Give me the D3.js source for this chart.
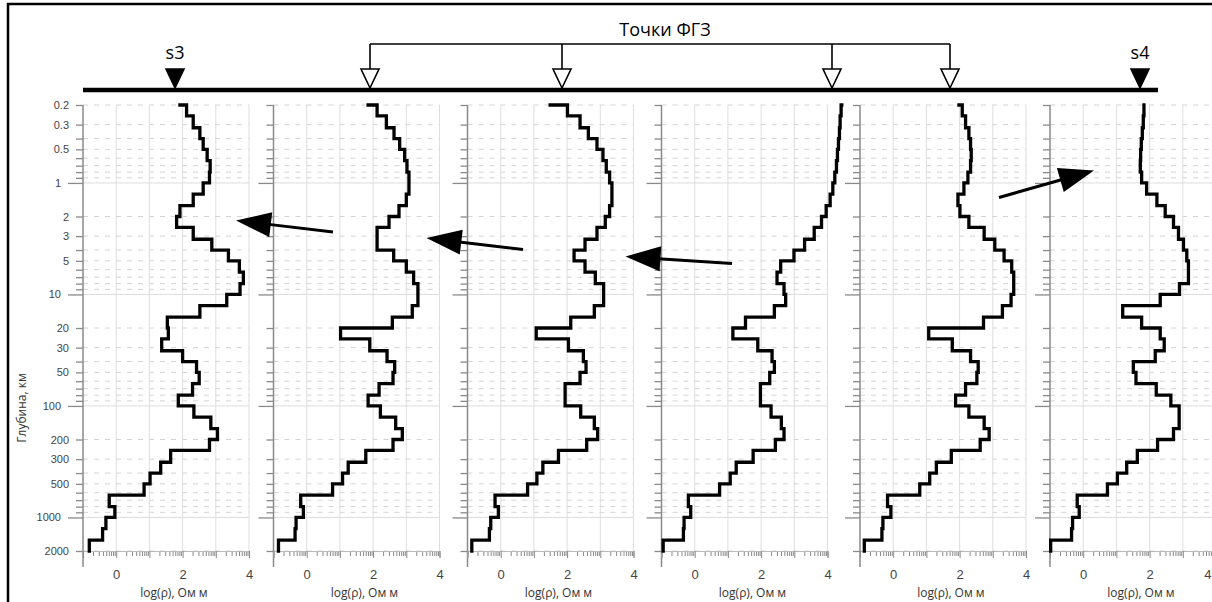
<!DOCTYPE html>
<html><head><meta charset="utf-8">
<script src="https://cdn.jsdelivr.net/npm/d3@7"></script>
<style>body{margin:0;background:#fff}svg{display:block}</style>
</head><body><svg id="c" width="1212" height="602"></svg>
<script>
// ---- DATA ----
const depthBounds = [0.2,0.25,0.32,0.4,0.5,0.63,0.8,1,1.26,1.6,2,2.5,3.2,4,5,6.3,8,10,12.6,16,20,25,32,40,50,63,80,100,126,160,200,250,320,400,500,630,800,1000,1260,1600,2000];
const stations = ["s3","ФГЗ-1","ФГЗ-2","ФГЗ-3","ФГЗ-4","s4"];
const stationType = ["site","fgz","fgz","fgz","fgz","site"];
// first value = surface stub above 0.2 km, then 40 layers
const rhoS3 = [1.92, 2.12,2.32,2.52,2.62,2.74,2.83,2.81,2.62,2.32,1.92, 1.82,2.32,2.88,3.38,3.71,3.83,3.73,3.33,2.52,1.54, 1.57,1.37,2.00,2.42,2.50,2.30,1.87,2.34,2.85,3.05, 2.81,1.64,1.34,1.02,0.84,-0.21,-0.04,-0.31,-0.41,-0.81];
const rhoF1 = [1.85, 2.12,2.40,2.63,2.80,2.95,3.02,3.08,3.08,3.00,2.78, 2.48,2.12,2.12,2.62,3.00,3.22,3.35,3.35,3.18,2.58, 1.02,1.90,2.42,2.65,2.60,2.18,1.85,2.22,2.68,2.88, 2.60,1.78,1.25,1.08,0.78,-0.18,-0.10,-0.32,-0.35,-0.85];
const rhoF2 = [1.49, 2.01,2.39,2.64,2.90,3.08,3.18,3.28,3.35,3.35,3.28, 3.15,2.90,2.54,2.21,2.54,2.85,3.10,3.10,2.82,2.11, 1.07,2.04,2.49,2.57,2.39,1.94,1.94,2.41,2.82,2.92, 2.59,1.74,1.27,1.09,0.81,-0.17,-0.07,-0.30,-0.34,-0.87];
const rhoF3 = [4.43, 4.41,4.38,4.36,4.33,4.30,4.27,4.22,4.16,4.08,3.96, 3.82,3.60,3.31,2.99,2.59,2.48,2.69,2.74,2.40,1.53, 1.15,1.90,2.33,2.40,2.26,1.98,1.98,2.30,2.61,2.69, 2.43,1.76,1.25,1.07,0.75,-0.19,-0.12,-0.32,-0.34,-0.95];
const rhoF4 = [1.98, 2.08,2.18,2.28,2.33,2.35,2.33,2.25,2.13,1.95,2.01, 2.28,2.74,3.06,3.34,3.57,3.63,3.63,3.55,3.29,2.72, 1.07,1.78,2.33,2.56,2.52,2.18,1.88,2.28,2.74,2.89, 2.62,1.75,1.30,1.10,0.80,-0.17,-0.07,-0.31,-0.34,-0.87];
const rhoS4 = [1.83, 1.83,1.81,1.78,1.75,1.73,1.72,1.76,1.91,2.22,2.47, 2.72,2.87,3.02,3.12,3.17,3.17,2.90,2.32,1.19,1.76, 2.32,2.44,2.17,1.51,1.59,2.20,2.64,2.89,2.89,2.72, 2.24,1.63,1.31,1.03,0.73,-0.18,-0.12,-0.32,-0.35,-0.98];
const profiles = [rhoS3, rhoF1, rhoF2, rhoF3, rhoF4, rhoS4];
const depthTickLabels = [0.2,0.3,0.5,1,2,3,5,10,20,30,50,100,200,300,500,1000,2000];
const depthTickMinor = [0.4,0.6,0.7,0.8,0.9,4,6,7,8,9,40,60,70,80,90,400,600,700,800,900];
const decades = [1,10,100,1000];
const rhoTicks = [-1,0,1,2,3,4];
const rhoTickLabels = [0,2,4];
const xTitle = "log(ρ), Ом м";
const yTitle = "Глубина, км";
const topTitle = "Точки ФГЗ";

// ---- LAYOUT ----
const W = 1212;
const panelLeft = [83, 273.5, 467.5, 661.5, 860, 1050];
const panelW = 166, yTop = 105, yBot = 551;
const markerX = [175, 370, 562, 832, 950, 1140];
const arrows = [
  {x1:333,y1:232,x2:236,y2:220.5},
  {x1:523,y1:249.5,x2:426.5,y2:238},
  {x1:732,y1:263.5,x2:625.5,y2:256.5},
  {x1:999,y1:197.5,x2:1094,y2:170.5}
];

const svg = d3.select("#c");
// frame (left and top edges)
svg.append("path").attr("d","M8,602L8,4L1212,4")
  .attr("fill","none").attr("stroke","#000").attr("stroke-width",2.5);

const y = d3.scaleLog().domain([0.2,2000]).range([yTop,yBot]);
const allDepthTicks = depthTickLabels.concat(depthTickMinor);

profiles.forEach((vals,p)=>{
  const L = panelLeft[p];
  const x = d3.scaleLinear().domain([-1,4]).range([L, L+panelW]);
  const g = svg.append("g");
  // grid
  g.selectAll(".hg").data(allDepthTicks).join("line")
    .attr("x1",L).attr("x2",L+panelW)
    .attr("y1",d=>y(d)).attr("y2",d=>y(d))
    .attr("stroke", d=>decades.includes(d)?"#dcdcdc":"#d4d4d4")
    .attr("stroke-width",1)
    .attr("stroke-dasharray", d=>decades.includes(d)?null:"5,6");
  g.selectAll(".vg").data(rhoTicks.slice(1)).join("line")
    .attr("x1",d=>x(d)).attr("x2",d=>x(d)).attr("y1",yTop).attr("y2",yBot)
    .attr("stroke","#dedede").attr("stroke-width",1);
  // y axis
  const nonDec = allDepthTicks.filter(d=>!decades.includes(d));
  const showLab = p===0;
  const axDec = d3.axisLeft(y).tickValues(decades).tickSize(15).tickPadding(7)
    .tickFormat(d=>showLab?String(d):"");
  const axOther = d3.axisLeft(y).tickValues(nonDec).tickSize(7).tickPadding(7)
    .tickFormat(d=>showLab && depthTickLabels.includes(d)?String(d):"");
  [axDec, axOther].forEach(ax=>{
    const a = g.append("g").attr("transform",`translate(${L},0)`).call(ax);
    a.select(".domain").remove();
    a.selectAll("line").attr("stroke","#8a8a8a").attr("stroke-width",1.3);
    a.selectAll("text").attr("fill","#444").style("font-family","Liberation Sans, Arial, sans-serif").style("font-size","11px");
  });
  g.append("line").attr("x1",L).attr("x2",L).attr("y1",yTop).attr("y2",567)
    .attr("stroke","#8a8a8a").attr("stroke-width",1.5);
  // x axis
  const minor = [];
  rhoTicks.slice(0,-1).forEach(n=>{[2,3,4,5,6,7,8,9].forEach(m=>minor.push(n+Math.log10(m)));});
  const axXMinor = d3.axisBottom(x).tickValues(minor).tickSize(5).tickFormat("");
  const axXMajor = d3.axisBottom(x).tickValues(rhoTicks).tickSize(7).tickPadding(12)
    .tickFormat(d=>rhoTickLabels.includes(d)?String(d):"");
  [axXMinor, axXMajor].forEach(ax=>{
    const a = g.append("g").attr("transform",`translate(0,${yBot})`).call(ax);
    a.select(".domain").attr("stroke","#bbb").attr("stroke-width",1);
    a.selectAll("line").attr("stroke","#8a8a8a").attr("stroke-width",1);
    a.selectAll("text").attr("fill","#444").style("font-family","Liberation Sans, Arial, sans-serif").style("font-size","13px")
      .attr("text-anchor", d=> x(d)+5 > W ? "end" : "middle")
      .attr("x", d=> x(d)+5 > W ? (W-1-x(d)) : 0);
  });
  g.append("text").attr("x",L+91).attr("y",597).attr("text-anchor","middle")
    .style("font-family","Open Sans, sans-serif").style("font-size","12px").attr("fill","#333").text(xTitle);
  // profile
  const pts = [[vals[0], depthBounds[0]]];
  for(let i=1;i<vals.length;i++){ pts.push([vals[i],depthBounds[i-1]]); pts.push([vals[i],depthBounds[i]]); }
  g.append("path").datum(pts)
    .attr("d", d3.line().x(d=>x(d[0])).y(d=>y(d[1])))
    .attr("fill","none").attr("stroke","#000").attr("stroke-width",3.3)
    .attr("stroke-linejoin","miter").attr("stroke-linecap","square");
});

svg.append("text").attr("transform","translate(26,408) rotate(-90)").attr("text-anchor","middle")
  .style("font-family","Open Sans, sans-serif").style("font-size","12px").attr("fill","#333").text(yTitle);

// top line and markers
svg.append("line").attr("x1",83).attr("x2",1158).attr("y1",90).attr("y2",90)
  .attr("stroke","#000").attr("stroke-width",4.5);
const fgzX = markerX.filter((d,i)=>stationType[i]==="fgz");
svg.append("line").attr("x1",d3.min(fgzX)).attr("x2",d3.max(fgzX)).attr("y1",44).attr("y2",44)
  .attr("stroke","#000").attr("stroke-width",1.6);
markerX.forEach((mx,i)=>{
  const fgz = stationType[i]==="fgz";
  if(fgz){
    svg.append("line").attr("x1",mx).attr("x2",mx).attr("y1",44).attr("y2",69)
      .attr("stroke","#000").attr("stroke-width",1.6);
  } else {
    svg.append("text").attr("x",mx).attr("y",59).attr("text-anchor","middle")
      .style("font-family","Open Sans, sans-serif").style("font-size","18px").attr("fill","#000").text(stations[i]);
  }
  svg.append("path").attr("d",`M${mx-9},${69}L${mx+9},${69}L${mx},${88}Z`)
    .attr("fill",fgz?"#fff":"#000").attr("stroke","#000").attr("stroke-width",1.6);
});
svg.append("text").attr("x",665).attr("y",36).attr("text-anchor","middle")
  .style("font-family","Open Sans, sans-serif").style("font-size","18px").attr("fill","#000").text(topTitle);

// arrows
arrows.forEach(a=>{
  const dx=a.x2-a.x1, dy=a.y2-a.y1, len=Math.hypot(dx,dy), ux=dx/len, uy=dy/len;
  const hl=35, hw=12.5;
  const bx=a.x2-ux*hl, by=a.y2-uy*hl;
  svg.append("line").attr("x1",a.x1).attr("y1",a.y1).attr("x2",bx+ux*2).attr("y2",by+uy*2)
    .attr("stroke","#000").attr("stroke-width",3);
  svg.append("path").attr("d",`M${a.x2},${a.y2}L${bx-uy*hw},${by+ux*hw}L${bx+uy*hw},${by-ux*hw}Z`).attr("fill","#000");
});
</script></body></html>
